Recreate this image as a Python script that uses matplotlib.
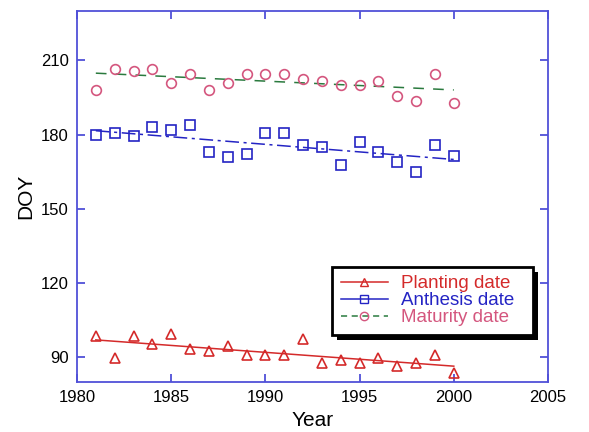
import numpy as np
import matplotlib.pyplot as plt
from matplotlib.lines import Line2D
from matplotlib.patches import Rectangle
from matplotlib.transforms import IdentityTransform

plt.rcParams['font.family'] = ['Liberation Sans', 'DejaVu Sans']

# Day of year for each crop stage, 1981-2000
years = np.arange(1981, 2001)
planting = [98.5, 89.7, 98.5, 95.5, 99.3, 93.5, 92.6, 94.6, 90.8, 90.8,
            90.8, 97.3, 87.8, 88.8, 87.7, 89.7, 86.4, 87.7, 90.8, 83.6]
anthesis = [179.7, 180.7, 179.6, 183.1, 182.0, 184.0, 172.8, 171.0, 172.0, 180.7,
            180.7, 175.9, 175.0, 167.6, 176.9, 173.2, 168.8, 165.0, 175.9, 171.2]
maturity = [198.2, 206.6, 205.7, 206.6, 201.0, 204.7, 198.2, 201.0, 204.7, 204.7,
            204.7, 202.7, 201.8, 200.0, 200.0, 201.8, 195.8, 193.8, 204.7, 192.9]
labels = ['Planting date', 'Anthesis date', 'Maturity date']

red = '#d42a2a'
blue = '#2424c4'
pink = '#d4567e'
green = '#2a7a3e'
axis_col = '#5050d8'

fig = plt.figure(figsize=(5.89, 4.32), dpi=100)
ax = fig.add_axes([0.1307, 0.1157, 0.7997, 0.8588])


def trend(y):
    k, b = np.polyfit(years, y, 1)
    return k * years + b


ax.plot(years, trend(planting), color=red, lw=1.1)
ax.plot(years, trend(anthesis), color=blue, lw=1.1, linestyle=(0, (9, 3, 2, 3)))
ax.plot(years, trend(maturity), color=green, lw=1.1, linestyle=(0, (7, 6)))

ax.plot(years, planting, '^', ms=7, mfc='none', mec=red, mew=1.2)
ax.plot(years, anthesis, 's', ms=7, mfc='none', mec=blue, mew=1.2)
ax.plot(years, maturity, 'o', ms=7, mfc='none', mec=pink, mew=1.2)

ax.set_xlim(1980, 2005)
ax.set_ylim(80, 230)
ax.set_xticks([1980, 1985, 1990, 1995, 2000, 2005])
ax.set_yticks([90, 120, 150, 180, 210])
ax.set_xlabel('Year', fontsize=15)
ax.set_ylabel('DOY', fontsize=15)

for s in ax.spines.values():
    s.set_color(axis_col)
    s.set_linewidth(1.3)
ax.tick_params(direction='in', length=6, width=1.3, color=axis_col,
               labelsize=12, top=True, right=True, pad=6)

handles = [
    Line2D([], [], color=red, lw=1.1, marker='^', ms=6, mfc='none', mec=red),
    Line2D([], [], color=blue, lw=1.1, marker='s', ms=6, mfc='none', mec=blue),
    Line2D([], [], color=green, lw=1.1, linestyle=(0, (4, 3)), marker='o', ms=6,
           mfc='none', mec=pink),
]
leg = ax.legend(handles, [s + '  ' for s in labels],
                loc='lower right', bbox_to_anchor=(0.968, 0.127), borderaxespad=0,
                fontsize=13.5, labelcolor=[red, blue, pink], handlelength=2.5,
                handletextpad=0.7, labelspacing=0.0, borderpad=0.45,
                fancybox=False, framealpha=1, edgecolor='black')
leg.get_frame().set_linewidth(2)

# solid drop shadow behind the legend box
fig.canvas.draw()
bb = leg.get_window_extent()
ax.add_patch(Rectangle((bb.x0 + 5, bb.y0 - 5), bb.width, bb.height,
                       transform=IdentityTransform(), facecolor='black',
                       edgecolor='none', zorder=4.9, clip_on=False))

fig.savefig('out.png', dpi=100)
